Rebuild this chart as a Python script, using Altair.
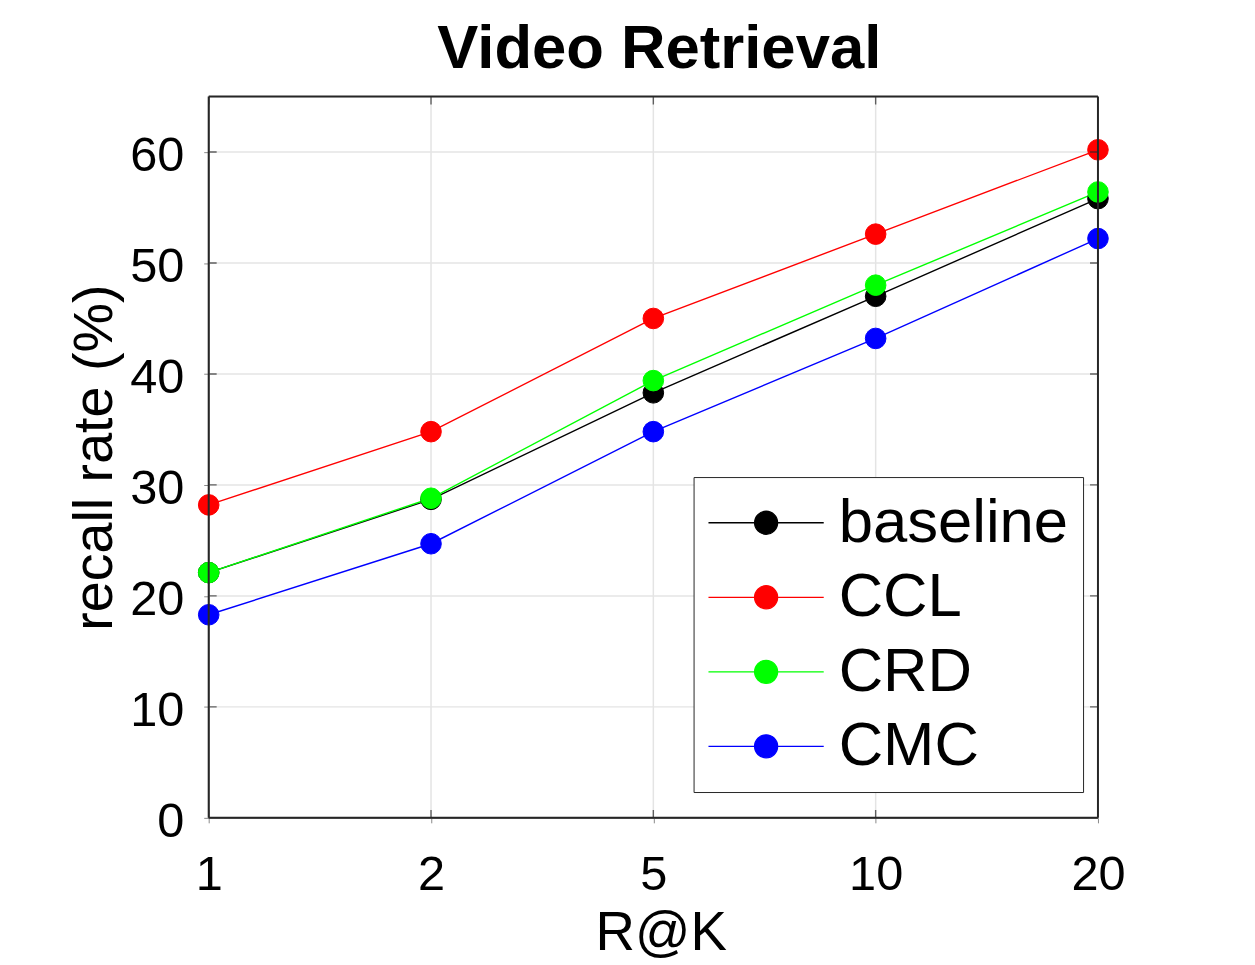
import altair as alt
import pandas as pd

# ---- data ----
ks = ["1", "2", "5", "10", "20"]
methods = ["baseline", "CCL", "CRD", "CMC"]
baseline = [22.1, 28.7, 38.3, 47.0, 55.8]
ccl = [28.2, 34.8, 45.0, 52.6, 60.2]
crd = [22.1, 28.8, 39.4, 48.0, 56.4]
cmc = [18.3, 24.7, 34.8, 43.2, 52.2]
colors = ["#000000", "#ff0000", "#00ff00", "#0000ff"]
y_ticks = [0, 10, 20, 30, 40, 50, 60]
x_grid = ["2", "5", "10"]
y_grid = [10, 20, 30, 40, 50, 60]
y_range = [0, 65]

rows = []
for name, vals in zip(methods, [baseline, ccl, crd, cmc]):
    for k, v in zip(ks, vals):
        rows.append({"K": k, "recall": v, "method": name})
df = pd.DataFrame(rows)

FONT = "Liberation Sans"
W, H = 895, 726
GRID = "#e4e4e4"
EDGE = "#262626"

x_axis = alt.Axis(
    title="R@K", labelAngle=0, labelFontSize=49, labelPadding=28,
    titleFontSize=55, titleFontWeight="normal", titleBaseline="alphabetic",
    titleX=455, titleY=132, titleAnchor="middle", grid=False,
)
y_axis = alt.Axis(
    title="recall rate (%)", values=y_ticks, labelFontSize=49, labelPadding=20,
    labelOffset=4, titleFontSize=56, titleFontWeight="normal", titleAngle=270,
    titleBaseline="alphabetic", titleX=-98, titleY=363, titleAlign="center", grid=False,
)

x_enc = alt.X("K:N", sort=ks, scale=alt.Scale(type="point", padding=0), axis=x_axis)
y_enc = alt.Y("recall:Q", scale=alt.Scale(domain=y_range, nice=False, zero=True), axis=y_axis)

legend = alt.Legend(
    title=None, orient="none", legendX=488, legendY=383,
    symbolType="M-2,0L2,0M-0.4,0A0.4,0.4,0,1,1,0.4,0A0.4,0.4,0,1,1,-0.4,0Z",
    symbolSize=3364, symbolStrokeWidth=1.3, symbolOpacity=1, symbolOffset=27,
    labelFontSize=62, labelFont=FONT, labelColor="#000000", labelOffset=42,
    labelLimit=0, padding=15, rowPadding=13, strokeColor=EDGE,
    fillColor="#ffffff", cornerRadius=0,
)
cscale = alt.Scale(domain=methods, range=colors)

# grid lines (inner only)
xg = pd.DataFrame({"K": x_grid})
yg = pd.DataFrame({"recall": y_grid})
vgrid = alt.Chart(xg).mark_rule(color=GRID, strokeWidth=1.5).encode(x=x_enc)
hgrid = alt.Chart(yg).mark_rule(color=GRID, strokeWidth=1.5).encode(y=y_enc)

lines = alt.Chart(df).mark_line(strokeWidth=1.4).encode(
    x=x_enc, y=y_enc,
    stroke=alt.Stroke("method:N", scale=cscale, legend=legend, sort=methods),
)
points = alt.Chart(df).mark_point(shape="circle", filled=True, size=430, opacity=1, strokeWidth=1).encode(
    x=x_enc, y=y_enc,
    fill=alt.Fill("method:N", scale=cscale, legend=legend, sort=methods),
    stroke=alt.Stroke("method:N", scale=cscale, legend=legend, sort=methods),
)

# inward tick marks (MATLAB box style)
xt = pd.DataFrame({"K": ks})
yt = pd.DataFrame({"recall": y_ticks})
tick_style = dict(size=16, thickness=1.4, color=EDGE, clip=True)
bottom_ticks = alt.Chart(xt).mark_tick(orient="vertical", **tick_style).encode(x=x_enc, y=alt.datum(0))
top_ticks = alt.Chart(xt).mark_tick(orient="vertical", **tick_style).encode(x=x_enc, y=alt.datum(65))
left_ticks = alt.Chart(yt).mark_tick(orient="horizontal", **tick_style).encode(x=alt.datum("1"), y=y_enc)
right_ticks = alt.Chart(yt).mark_tick(orient="horizontal", **tick_style).encode(x=alt.datum("20"), y=y_enc)

# dark axes box (drawn from the scale ends)
box_v = alt.Chart(pd.DataFrame({"K": [ks[0], ks[-1]]})).mark_rule(color=EDGE, strokeWidth=2).encode(x=x_enc)
box_h = alt.Chart(pd.DataFrame({"recall": y_range})).mark_rule(color=EDGE, strokeWidth=2).encode(y=y_enc)

chart = alt.layer(
    vgrid, hgrid, lines, points, bottom_ticks, top_ticks, left_ticks, right_ticks, box_v, box_h
).properties(
    width=W, height=H,
    title=alt.TitleParams(
        "Video Retrieval", fontSize=62, fontWeight="bold", font=FONT, color="#000000",
        anchor="middle", baseline="alphabetic", offset=23, dy=57, dx=6, frame="group",
    ),
    autosize=alt.AutoSizeParams(type="none"),
    padding={"left": 202, "top": 86, "right": 150, "bottom": 143},
).configure_view(
    stroke=EDGE, strokeWidth=2,
).configure_legend(
    strokeWidth=1.5,
).configure_axis(
    labelFont=FONT, titleFont=FONT, labelColor=EDGE, titleColor=EDGE,
    titleFontWeight="normal", domain=False, ticks=False, tickSize=0,
).configure(background="#ffffff")

chart.save("out.html", embed_options={"renderer": "svg", "actions": False})
